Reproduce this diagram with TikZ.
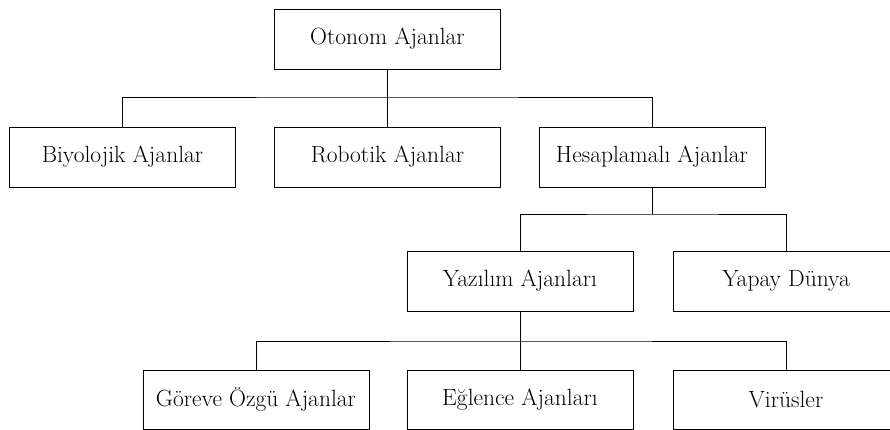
\documentclass[tikz,border=0pt]{standalone}
\usetikzlibrary{positioning}
\tikzset{
  agentbox/.style={draw, line width=0.9pt, minimum width=226pt, minimum height=60pt, inner sep=0pt, font=\fontsize{23.5}{28}\selectfont},
  link/.style={line width=0.9pt}
}
\begin{document}
\begin{tikzpicture}[x=1pt, y=-1pt]
\clip (0,0) rectangle (890,430);
% Level 0
\node[agentbox] (oto) at (387.5,39) {Otonom Ajanlar};
% Level 1
\node[agentbox] (bio) at (122.5,157) {Biyolojik Ajanlar};
\node[agentbox] (rob) at (387.5,157) {Robotik Ajanlar};
\node[agentbox] (hes) at (652,157) {Hesaplamalı Ajanlar};
% Level 2
\node[agentbox] (yaz) at (520,281) {Yazılım Ajanları};
\node[agentbox] (yap) at (786,281) {Yapay Dünya};
% Level 3
\node[agentbox, minimum height=59pt] (gor) at (256,399.5) {Göreve Özgü Ajanlar};
\node[agentbox, minimum height=59pt] (egl) at (520,399.5) {Eğlence Ajanları};
\node[agentbox, minimum height=59pt] (vir) at (786,399.5) {Virüsler};

% Connections
\coordinate (bus1) at (387.5,97);
\coordinate (bus2) at (652,214);
\coordinate (bus3) at (520,341);
\draw[link] (oto.south) -- (rob.north);
\draw[link] (bio.north) |- (bus1) -| (hes.north);
\draw[link] (hes.south) -- (bus2);
\draw[link] (yaz.north) |- (bus2) -| (yap.north);
\draw[link] (yaz.south) -- (egl.north);
\draw[link] (gor.north) |- (bus3) -| (vir.north);
\end{tikzpicture}
\end{document}
